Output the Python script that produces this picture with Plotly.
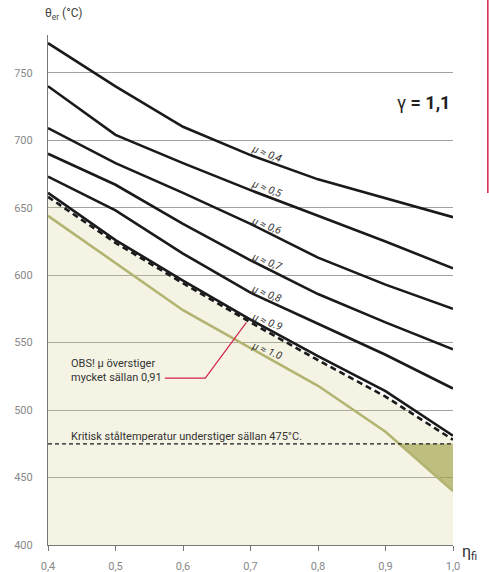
import numpy as np
import plotly.graph_objects as go

# ---- data ----
eta = [0.4, 0.5, 0.6, 0.7, 0.8, 0.9, 1.0]
x_ticktext = ["0,4", "0,5", "0,6", "0,7", "0,8", "0,9", "1,0"]
y_tickvals = [400, 450, 500, 550, 600, 650, 700, 750]

mu_labels = ["μ ≈ 0,4", "μ ≈ 0,5", "μ ≈ 0,6", "μ ≈ 0,7", "μ ≈ 0,8", "μ ≈ 0.9", "μ ≈ 1.0"]
mu04 = [772, 740, 710, 689, 671, 657, 643]
mu05 = [740, 704, 683, 663, 644, 625, 605]
mu06 = [709, 683, 661, 638, 613, 593, 575]
mu07 = [690, 667, 638, 611, 586, 565, 545]
mu08 = [673, 648, 616, 587, 564, 541, 516]
mu09 = [661, 626, 596, 567, 540, 514, 481]
mu091 = [658, 624, 594, 565, 537, 510, 478]   # dashed, mu = 0,91
mu10 = [644, 609, 574, 546, 518, 484, 440]

critical_temp = 475
label_eta = 0.73

FONT = "Roboto, Arial, sans-serif"
BLACK = "#1a1a1a"
GREEN = "#b3b472"
RED = "#d2234a"

fig = go.Figure()

# cream area under the dashed curve
fig.add_trace(go.Scatter(x=eta, y=mu091, mode="lines", line=dict(width=0),
                         fill="tozeroy", fillcolor="rgba(210,200,130,0.225)",
                         hoverinfo="skip", showlegend=False))

# olive area: between the 475 line and the mu=1,0 curve where the curve is below 475
e = np.array(eta)
g = np.array(mu10, dtype=float)
x_cross = float(np.interp(critical_temp, g[::-1], e[::-1]))
after = [v for v in eta if v > x_cross]
tri_x = [x_cross] + after + after[::-1] + [x_cross]
tri_y = [critical_temp] + [critical_temp] * len(after) + \
        [float(np.interp(v, e, g)) for v in after[::-1]] + [critical_temp]
fig.add_trace(go.Scatter(x=tri_x, y=tri_y, mode="lines",
                         line=dict(width=0), fill="toself",
                         fillcolor="rgba(153,155,63,0.6)", hoverinfo="skip", showlegend=False))

# green mu = 1,0 curve
fig.add_trace(go.Scatter(x=eta, y=mu10, mode="lines", line=dict(color=GREEN, width=2.6),
                         showlegend=False))

# critical temperature dashed line
fig.add_trace(go.Scatter(x=[eta[0], eta[-1]], y=[critical_temp, critical_temp], mode="lines",
                         line=dict(color=BLACK, width=1.2, dash="4px,3px"), showlegend=False))

# black curves
for ys in [mu04, mu05, mu06, mu07, mu08, mu09]:
    fig.add_trace(go.Scatter(x=eta, y=ys, mode="lines",
                             line=dict(color=BLACK, width=2.6), showlegend=False))

# dashed mu = 0,91
fig.add_trace(go.Scatter(x=eta, y=mu091, mode="lines",
                         line=dict(color=BLACK, width=2.6, dash="6px,4px"), showlegend=False))

annotations = []
for lab, ys in zip(mu_labels, [mu04, mu05, mu06, mu07, mu08, mu09, mu10]):
    yv = float(np.interp(label_eta, eta, ys))
    annotations.append(dict(x=label_eta, y=yv, text=f"<i>{lab}</i>", showarrow=False,
                            textangle=21, yshift=9, xshift=-4,
                            font=dict(family=FONT, size=10.5, color="#333")))

annotations += [
    dict(xref="paper", yref="paper", x=-0.012, y=1.041, xanchor="left", yanchor="middle",
         text="θ<sub>er</sub> (°C)", showarrow=False,
         font=dict(family=FONT, size=12, color="#444")),
    dict(xref="paper", yref="y", x=0.998, y=728, xanchor="right", yanchor="middle",
         text="γ <b>= 1,1</b>", showarrow=False,
         font=dict(family=FONT, size=18, color="#222")),
    dict(xref="paper", yref="paper", x=1.017, y=-0.014, xanchor="left", yanchor="middle",
         text="η<sub>fi</sub>", showarrow=False,
         font=dict(family=FONT, size=16, color="#333")),
    dict(x=0.431, y=529.5, xanchor="left", yanchor="middle", align="left",
         text="OBS! μ överstiger<br>mycket sällan 0,91", showarrow=False,
         font=dict(family=FONT, size=11, color="#333")),
    dict(x=0.431, y=critical_temp, xanchor="left", yanchor="bottom", yshift=-1,
         text="Kritisk ståltemperatur understiger sällan 475°C.", showarrow=False,
         font=dict(family=FONT, size=11, color="#333")),
]

shapes = [
    # red leader line from the note to the dashed curve
    dict(type="path", xref="x", yref="y",
         path="M 0.573 523.7 L 0.633 523.7 L 0.694 565", line=dict(color=RED, width=1.2)),
    # red page rule on the far right
    dict(type="line", xref="paper", yref="paper", x0=1.086, x1=1.086, y0=0.69, y1=1.08,
         line=dict(color=RED, width=1.5)),
]

fig.update_layout(
    width=489, height=572,
    margin=dict(l=48, r=36, t=35, b=27, autoexpand=False),
    paper_bgcolor="white", plot_bgcolor="white",
    font=dict(family=FONT, size=11, color="#888"),
    annotations=annotations, shapes=shapes,
    showlegend=False,
    xaxis=dict(range=[0.4, 1.0], tickvals=eta, ticktext=x_ticktext, automargin=False,
               showgrid=False, zeroline=False, showline=True, linecolor="#777", linewidth=1.2,
               ticks="outside", ticklen=5, tickcolor="#777", ticklabelstandoff=6,
               tickfont=dict(family=FONT, size=11, color="#888")),
    yaxis=dict(range=[400, 778], tickvals=y_tickvals, ticktext=[str(v) for v in y_tickvals],
               automargin=False,
               showgrid=True, gridcolor="#a3a3a3", gridwidth=1, zeroline=False,
               showline=True, linecolor="#777", linewidth=1.2, ticks="",
               ticklabelstandoff=12,
               tickfont=dict(family=FONT, size=11, color="#888")),
)

fig.write_html("out.html")
